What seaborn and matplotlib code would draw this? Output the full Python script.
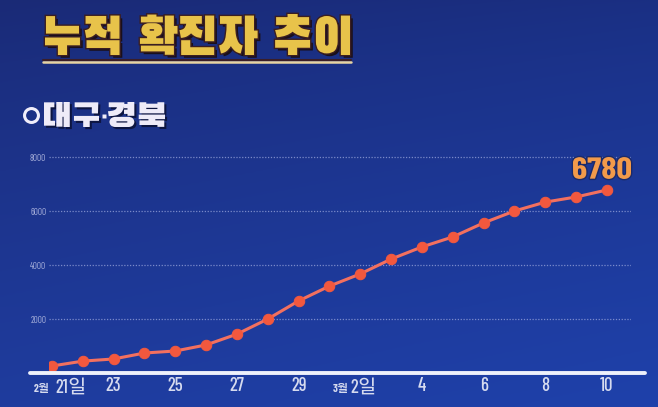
import matplotlib
matplotlib.use("Agg")
import matplotlib.pyplot as plt
import matplotlib.patheffects as pe
from matplotlib.lines import Line2D
from matplotlib.patches import PathPatch
from matplotlib.textpath import TextPath
from matplotlib.font_manager import FontProperties
from matplotlib.transforms import Affine2D
import numpy as np
import pandas as pd
import seaborn as sns

### data : 대구·경북 누적 확진자 (2/21 ~ 3/10) ###
days = ["2/21", "2/22", "2/23", "2/24", "2/25", "2/26", "2/27", "2/28", "2/29",
        "3/1", "3/2", "3/3", "3/4", "3/5", "3/6", "3/7", "3/8", "3/9", "3/10"]
cases = [260, 440, 520, 740, 815, 1040, 1440, 2000, 2670,
         3220, 3670, 4220, 4670, 5040, 5560, 6000, 6330, 6520, 6780]
tick_labels = ["", "23", "25", "27", "29", "", "4", "6", "8", "10"]
y_ticks = [2000, 4000, 6000, 8000]

df = pd.DataFrame({"day": np.arange(len(days)), "cases": cases})

sns.set_style("dark")
plt.rcParams["font.family"] = ["Gothic A1", "Noto Sans CJK KR", "DejaVu Sans"]
narrow = ["Barlow Condensed", "Gothic A1", "Noto Sans CJK KR"]

W, H = 658, 407
fig = plt.figure(figsize=(W / 100, H / 100), dpi=100)
px = Affine2D().scale(1 / W, 1 / H) + fig.transFigure


def fit_text(s, box, family, color, effects=None, weight="normal"):
    # text stretched into a pixel box (x0, y0, x1, y1), measured from the top-left
    x0, y0, x1, y1 = box
    path = TextPath((0, 0), s, size=100, prop=FontProperties(family=family, weight=weight))
    ext = path.get_extents()
    tr = (Affine2D().translate(-ext.x0, -ext.y0)
          .scale((x1 - x0) / ext.width, (y1 - y0) / ext.height)
          .translate(x0, H - y1))
    fig.add_artist(PathPatch(tr.transform_path(path), facecolor=color, edgecolor="none",
                             transform=px, path_effects=effects, zorder=10))


### background gradient ###
bg = fig.add_axes([0, 0, 1, 1])
yy, xx = np.mgrid[0:1:200j, 0:1:300j]
top = np.array([26, 42, 118]) / 255
bot = np.array([31, 60, 158]) / 255
img = top + (bot - top) * yy[..., None] ** 0.8
img = img + (xx[..., None] * np.array([0.0, 0.02, 0.05]))
bg.imshow(np.clip(img, 0, 1), aspect="auto", extent=[0, 1, 0, 1], origin="upper")
bg.set_axis_off()

### chart ###
ax = fig.add_axes([49 / W, 34 / H, 582 / W, 233 / H])
ax.patch.set_alpha(0)
sns.lineplot(data=df, x="day", y="cases", ax=ax, color="#f3705f", linewidth=2.2,
             marker="o", markersize=7.5, markerfacecolor="#f2583e",
             markeredgecolor="#f2583e", zorder=5)

ax.set_xlim(-0.097, 18.78)
ax.set_ylim(0, 8630)
for y in y_ticks:
    ax.axhline(y, color="#9aa6dc", linewidth=0.9, linestyle=(0, (1, 1.3)), alpha=0.75)
ax.axhline(0, xmin=-0.033, xmax=1.024, color="#eef1fb", linewidth=2.8, clip_on=False, zorder=6)

ax.set_yticks(y_ticks)
ax.set_yticklabels([str(v) for v in y_ticks], fontsize=6.5, color="#aab2dc", family=narrow)
ax.set_xticks(np.arange(0, len(days), 2))
ax.set_xticklabels(tick_labels, fontsize=13.5, color="#d6dbef", family=narrow, fontweight=500)
ax.tick_params(length=0, pad=3)
ax.tick_params(axis="y", pad=2)
ax.set_xlabel("")
ax.set_ylabel("")
for s in ax.spines.values():
    s.set_visible(False)
ax.grid(False)

# month labels with small month part
xt = ax.get_xaxis_transform()
for i, mon, day, dm, dd in [(0, "2월", "21일", -0.06, 0.1), (10, "3월", "2일", -0.39, -0.32)]:
    ax.annotate(mon, xy=(i + dm, 0), xycoords=xt, xytext=(0, -14), textcoords="offset points",
                ha="right", va="baseline", fontsize=8, color="#d6dbef", family=narrow,
                fontweight="bold")
    ax.annotate(day, xy=(i + dd, 0), xycoords=xt, xytext=(0, -14), textcoords="offset points",
                ha="left", va="baseline", fontsize=13.5, color="#d6dbef", family=narrow,
                fontweight=500)

# last value
fit_text(f"{cases[-1]}", (573, 157, 631, 179), "Barlow Condensed", "#f29a4a",
         [pe.withStroke(linewidth=2, foreground="#1b2a6a")], weight="bold")

### titles ###
fit_text("누적 확진자 추이", (45, 14, 350, 55), "Black Han Sans", "#e8c34a",
         [pe.SimplePatchShadow(offset=(2, -2), shadow_rgbFace="#1a0c10", alpha=0.9),
          pe.withStroke(linewidth=2, foreground="#3a1e22")])
fig.add_artist(Line2D([43 / W, 351 / W], [1 - 59.5 / H] * 2, color="#3a1e28", linewidth=1.5))
fig.add_artist(Line2D([43 / W, 351 / W], [1 - 61.5 / H] * 2, color="#e8d4a2", linewidth=1.8))

# subtitle "대구·경북" (the font has no middle dot, so the dot is a small marker)
sub_fx = [pe.SimplePatchShadow(offset=(1.5, -1.5), shadow_rgbFace="#0a0f30", alpha=0.8), pe.Normal()]
fig.add_artist(Line2D([30.5 / W], [1 - 115 / H], marker="o", markersize=10,
                      markerfacecolor="none", markeredgecolor="#f0eefa", markeredgewidth=2.2))
fit_text("대구", (44, 102, 99, 127), "Black Han Sans", "#eeebf8", sub_fx)
fit_text("경북", (108, 102, 165, 127), "Black Han Sans", "#eeebf8", sub_fx)
fig.add_artist(Line2D([103.5 / W], [1 - 115.5 / H], marker="s", markersize=3,
                      markerfacecolor="#eeebf8", markeredgecolor="none"))

fig.savefig("out.png", dpi=100)
